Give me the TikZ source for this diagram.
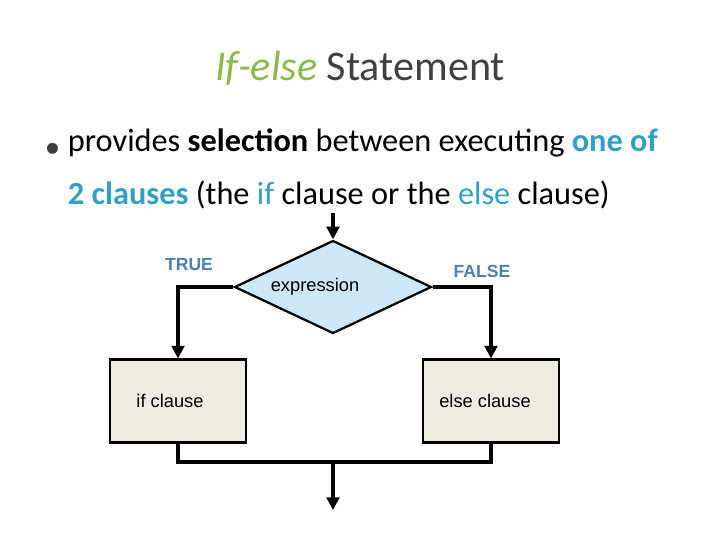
\documentclass[tikz,border=0pt]{standalone}
\usepackage{fontspec}
\setmainfont{Carlito}
\newfontfamily\arialfont{Liberation Sans}
\usetikzlibrary{shapes.geometric,positioning,arrows.meta}
\definecolor{titlegreen}{HTML}{8DB84A}
\definecolor{titlegray}{HTML}{404040}
\definecolor{clausecol}{HTML}{31A0C4}
\definecolor{labelblue}{HTML}{4F7FAF}
\definecolor{decfill}{HTML}{CCE8F8}
\definecolor{boxfill}{HTML}{EEEBE0}
\tikzset{
	flow/.style={line width=2.2pt,-{Triangle[length=9pt,width=9pt]}},
	line/.style={line width=2.2pt},
	clausebox/.style={draw,line width=1.6pt,fill=boxfill,minimum width=3.4cm,minimum height=2.07cm,font=\arialfont\fontsize{13}{15}\selectfont},
	branch/.style={font=\arialfont\bfseries\fontsize{12.5}{14}\selectfont,text=labelblue}
}
\begin{document}
\begin{tikzpicture}[x=0.025cm,y=-0.025cm]
	\useasboundingbox (0,0) rectangle (720,540);

	\node[font=\fontsize{30}{36}\selectfont,text=titlegray] (title) at (360,68) {\textcolor{titlegreen}{\itshape If-else} Statement};
	\node[anchor=west,font=\fontsize{22}{26}\selectfont,text=titlegray] (bullet) at (40,150) {\textbullet};
	\node[anchor=west,align=left,font=\fontsize{23}{38}\selectfont] (text) at (63,169) {provides \textbf{selection} between executing \textcolor{clausecol}{\textbf{one of}}\\
		\textcolor{clausecol}{\textbf{2 clauses}} (the \textcolor{clausecol}{if} clause or the \textcolor{clausecol}{else} clause)};

	\node[diamond,draw,line width=1.6pt,fill=decfill,minimum width=4.925cm,minimum height=2.325cm,inner sep=0pt,
		label={[font=\arialfont\fontsize{13}{15}\selectfont,xshift=-0.45cm]center:expression}] (expr) at (333,287) {};
	\coordinate (entry) at (333,213);
	\node[clausebox] (ifc) at (178,401) {\hspace*{-0.4cm}if clause};
	\node[clausebox] (elsec) at (491,401) {\hspace*{-0.3cm}else clause};
	\node[branch] (true) at (189,265) {TRUE};
	\node[branch] (false) at (482,271) {FALSE};
	\coordinate (join) at (333,462);
	\coordinate (exit) at (333,510);

	\draw[flow] (entry) -- (expr.north);
	\draw[flow] (expr.west) -| (ifc.north);
	\draw[flow] (expr.east) -| (elsec.north);
	\draw[line] (ifc.south) |- (join) -| (elsec.south);
	\draw[flow] (join) -- (exit);

\end{tikzpicture}
\end{document}
